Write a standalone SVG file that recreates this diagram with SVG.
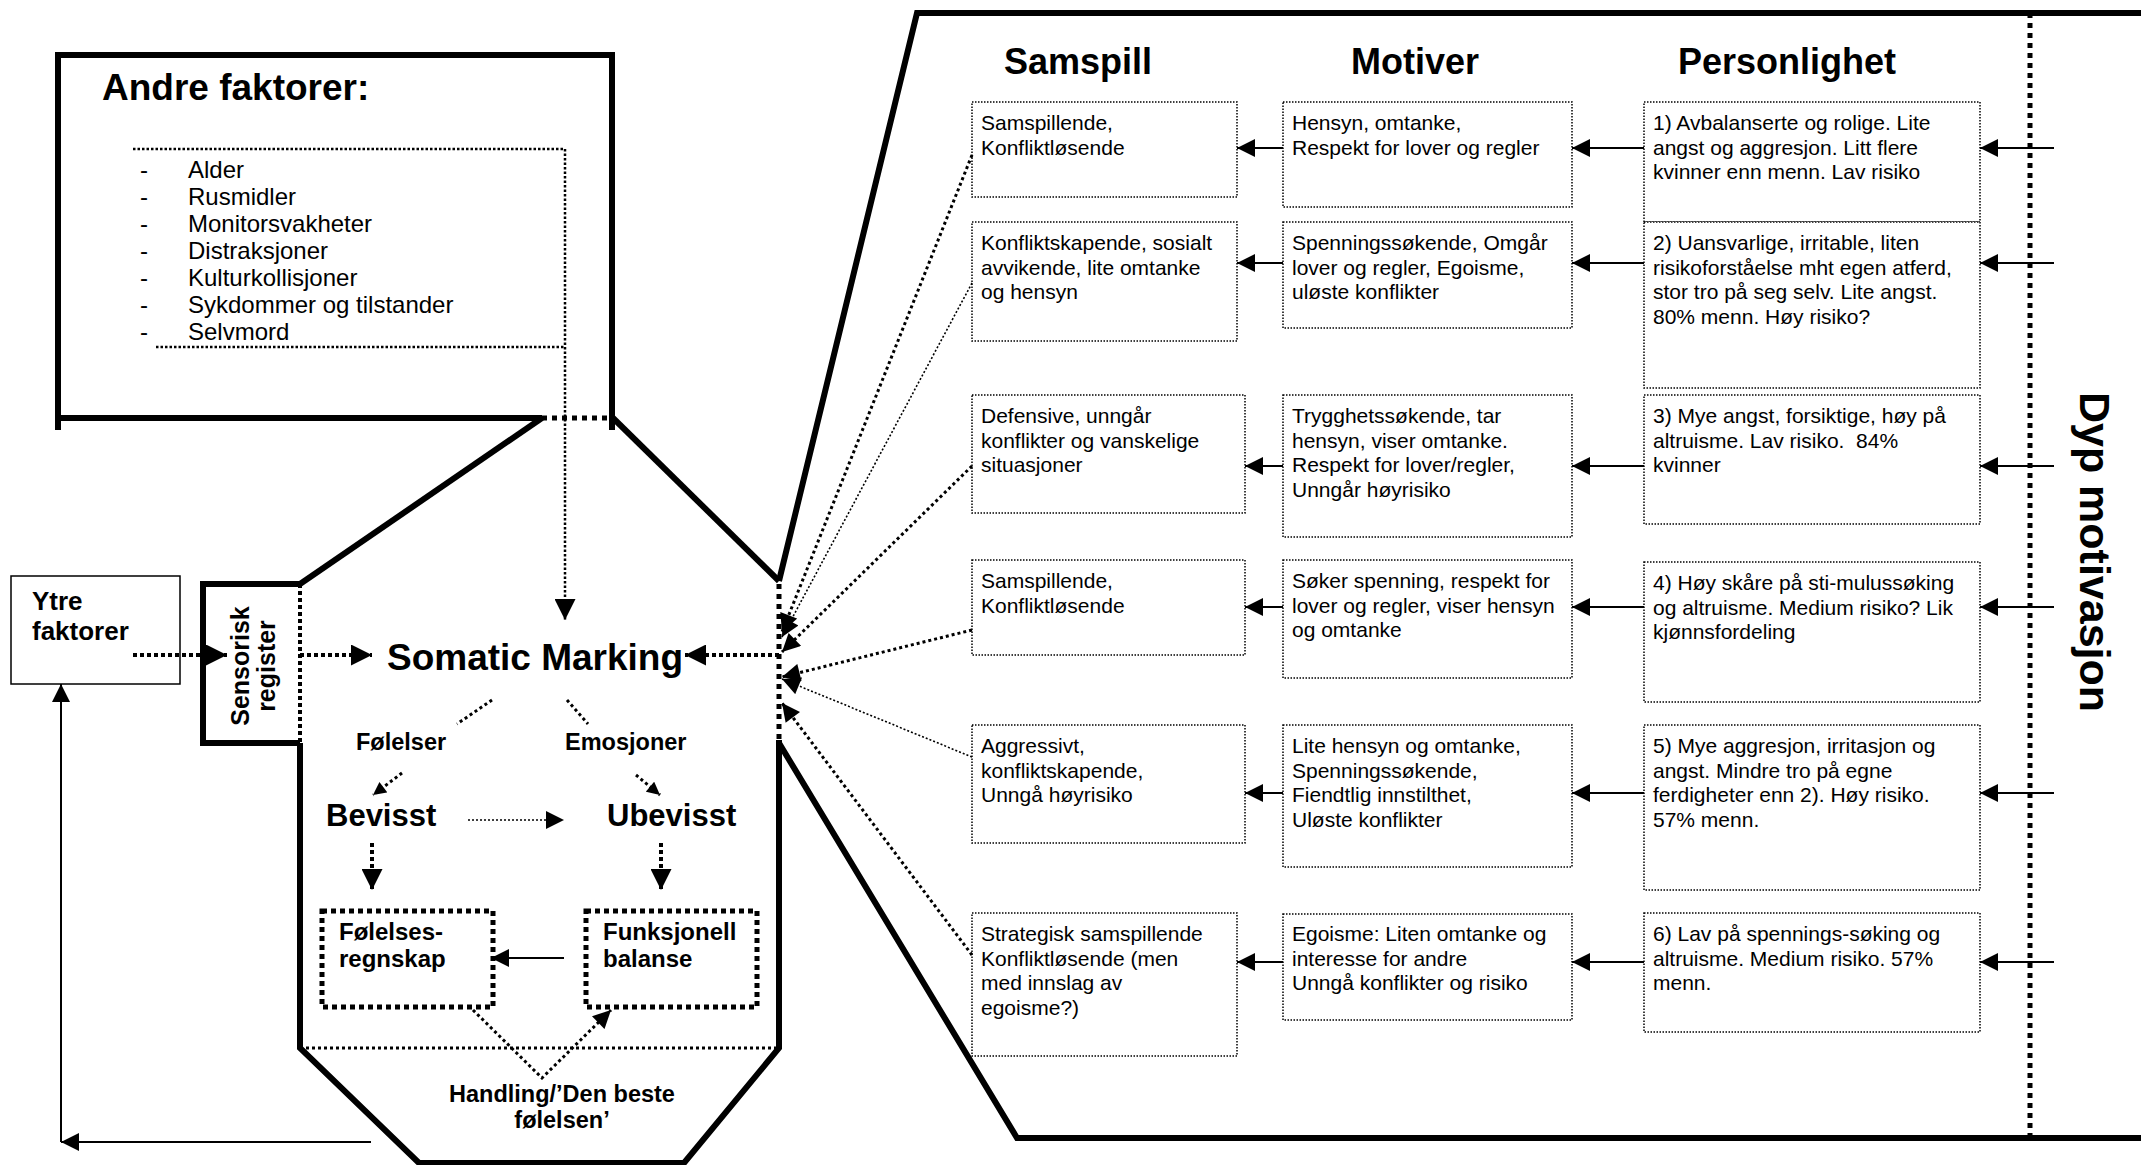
<svg xmlns="http://www.w3.org/2000/svg" width="2141" height="1165" viewBox="0 0 2141 1165">
  <style>
    .bg { fill: #ffffff; }
    .thick { fill: none; stroke: #000; stroke-width: 6; stroke-linejoin: miter; }
    .dotT { fill: none; stroke: #000; stroke-width: 5; stroke-dasharray: 5 5; }
    .dotA { fill: none; stroke: #000; stroke-width: 4; stroke-dasharray: 4 3; }
    .dotM { fill: none; stroke: #000; stroke-width: 3; stroke-dasharray: 3 3; }
    .dotS { fill: none; stroke: #000; stroke-width: 1.6; stroke-dasharray: 2 2; }
    .dotF { fill: none; stroke: #000; stroke-width: 2.5; stroke-dasharray: 2.5 2; }
    .solid { fill: none; stroke: #000; stroke-width: 2; }
    .cell { fill: #fff; stroke: #000; stroke-width: 1.5; stroke-dasharray: 1.5 1.5; }
    .fbox { fill: #fff; stroke: #000; stroke-width: 5; stroke-dasharray: 5 4; }
    text { font-family: "Liberation Sans", Arial, sans-serif; fill: #000; }
    .b { font-weight: bold; }
    .h1 { font-size: 36px; font-weight: bold; }
    .item { font-size: 24px; }
    .cellt { font-size: 21px; }
  </style>
  <defs>
    <marker id="ah-big" viewBox="0 0 10 10" refX="10" refY="5" markerWidth="22" markerHeight="21" markerUnits="userSpaceOnUse" orient="auto">
      <path d="M0,0 L10,5 L0,10 z" fill="#000" stroke="none"/>
    </marker>
    <marker id="ah-mid" viewBox="0 0 10 10" refX="10" refY="5" markerWidth="20" markerHeight="18" markerUnits="userSpaceOnUse" orient="auto">
      <path d="M0,0 L10,5 L0,10 z" fill="#000" stroke="none"/>
    </marker>
    <marker id="ah-small" viewBox="0 0 10 10" refX="10" refY="5" markerWidth="14" markerHeight="13" markerUnits="userSpaceOnUse" orient="auto">
      <path d="M0,0 L10,5 L0,10 z" fill="#000" stroke="none"/>
    </marker>
  </defs>

  <rect class="bg" x="0" y="0" width="2141" height="1165"/>

  <!-- Outer frames: "Andre faktorer" box, octagon and the right-hand panel -->
  <g id="frames">
    <path class="thick" d="M58,430 V55 H612 V430"/>
    <path class="thick" d="M58,418 H542"/>
    <path class="dotT" d="M542,418 H612"/>
    <path class="thick" d="M300,584 L542,418"/>
    <path class="thick" d="M613,418 L779,581"/>
    <path class="dotT" d="M779,584 V740"/>
    <path class="thick" d="M779,740 V1048 L684,1163 H419 L300,1048 V743"/>
    <path class="dotM" d="M300,1048 H779"/>
    <path class="thick" d="M779,581 L917,13 H2141"/>
    <path class="thick" d="M779,743 L1017,1138 H2141"/>
    <path class="dotT" d="M2030,13 V1138"/>
  </g>

  <g id="andre-faktorer">
    <text class="b" x="102" y="100" font-size="37">Andre faktorer:</text>
    <path class="dotF" d="M133,149 H565 M156,347 H565"/>
    <g class="item">
      <text x="140" y="178">-</text><text x="188" y="178">Alder</text>
      <text x="140" y="205">-</text><text x="188" y="205">Rusmidler</text>
      <text x="140" y="232">-</text><text x="188" y="232">Monitorsvakheter</text>
      <text x="140" y="259">-</text><text x="188" y="259">Distraksjoner</text>
      <text x="140" y="286">-</text><text x="188" y="286">Kulturkollisjoner</text>
      <text x="140" y="313">-</text><text x="188" y="313">Sykdommer og tilstander</text>
      <text x="140" y="340">-</text><text x="188" y="340">Selvmord</text>
    </g>
  </g>

  <g id="ytre-faktorer">
    <rect x="11" y="576" width="169" height="108" fill="#fff" stroke="#000" stroke-width="1.5"/>
    <text class="b" x="32" y="610" font-size="26">Ytre</text>
    <text class="b" x="32" y="640" font-size="26">faktorer</text>
  </g>

  <g id="sensorisk-register">
    <path class="thick" d="M300,584 H203 V743 H300"/>
    <path class="dotA" d="M300,584 V743"/>
    <text class="b" font-size="25" text-anchor="middle" transform="translate(249,666) rotate(-90)">Sensorisk</text>
    <text class="b" font-size="25" text-anchor="middle" transform="translate(275,666) rotate(-90)">register</text>
  </g>

  <g id="somatic-marking">
    <text class="b" x="387" y="670" font-size="37">Somatic Marking</text>
  </g>
  <g id="folelser"><text class="b" x="356" y="750" font-size="23.5">Følelser</text></g>
  <g id="emosjoner"><text class="b" x="565" y="750" font-size="23.5">Emosjoner</text></g>
  <g id="bevisst"><text class="b" x="326" y="826" font-size="31">Bevisst</text></g>
  <g id="ubevisst"><text class="b" x="607" y="826" font-size="31">Ubevisst</text></g>
  <g id="folelses-regnskap">
    <rect class="fbox" x="322" y="911" width="171" height="96"/>
    <text class="b" x="339" y="940" font-size="24">Følelses-</text>
    <text class="b" x="339" y="967" font-size="24">regnskap</text>
  </g>
  <g id="funksjonell-balanse">
    <rect class="fbox" x="586" y="911" width="171" height="96"/>
    <text class="b" x="603" y="940" font-size="24">Funksjonell</text>
    <text class="b" x="603" y="967" font-size="24">balanse</text>
  </g>
  <g id="handling">
    <text class="b" x="562" y="1102" font-size="23.5" text-anchor="middle">Handling/’Den beste</text>
    <text class="b" x="562" y="1128" font-size="23.5" text-anchor="middle">følelsen’</text>
  </g>

  <g id="headers">
    <text class="h1" x="1078" y="74" text-anchor="middle">Samspill</text>
    <text class="h1" x="1415" y="74" text-anchor="middle">Motiver</text>
    <text class="h1" x="1787" y="74" text-anchor="middle">Personlighet</text>
  </g>

  <g id="dyp-motivasjon">
    <text class="b" font-size="43" text-anchor="middle" transform="translate(2080,552) rotate(90)">Dyp motivasjon</text>
  </g>

  <!-- Samspill column -->
  <g id="samspill-1">
    <rect class="cell" x="972" y="102" width="265" height="95"/>
    <text class="cellt" x="981" y="130">Samspillende,</text>
    <text class="cellt" x="981" y="154.5">Konfliktløsende</text>
  </g>
  <g id="samspill-2">
    <rect class="cell" x="972" y="222" width="265" height="119"/>
    <text class="cellt" x="981" y="250">Konfliktskapende, sosialt</text>
    <text class="cellt" x="981" y="274.5">avvikende, lite omtanke</text>
    <text class="cellt" x="981" y="299">og hensyn</text>
  </g>
  <g id="samspill-3">
    <rect class="cell" x="972" y="395" width="273" height="118"/>
    <text class="cellt" x="981" y="423">Defensive, unngår</text>
    <text class="cellt" x="981" y="447.5">konflikter og vanskelige</text>
    <text class="cellt" x="981" y="472">situasjoner</text>
  </g>
  <g id="samspill-4">
    <rect class="cell" x="972" y="560" width="273" height="95"/>
    <text class="cellt" x="981" y="588">Samspillende,</text>
    <text class="cellt" x="981" y="612.5">Konfliktløsende</text>
  </g>
  <g id="samspill-5">
    <rect class="cell" x="972" y="725" width="273" height="118"/>
    <text class="cellt" x="981" y="753">Aggressivt,</text>
    <text class="cellt" x="981" y="777.5">konfliktskapende,</text>
    <text class="cellt" x="981" y="802">Unngå høyrisiko</text>
  </g>
  <g id="samspill-6">
    <rect class="cell" x="972" y="913" width="265" height="143"/>
    <text class="cellt" x="981" y="941">Strategisk samspillende</text>
    <text class="cellt" x="981" y="965.5">Konfliktløsende (men</text>
    <text class="cellt" x="981" y="990">med innslag av</text>
    <text class="cellt" x="981" y="1014.5">egoisme?)</text>
  </g>

  <!-- Motiver column -->
  <g id="motiver-1">
    <rect class="cell" x="1283" y="102" width="289" height="105"/>
    <text class="cellt" x="1292" y="130">Hensyn, omtanke,</text>
    <text class="cellt" x="1292" y="154.5">Respekt for lover og regler</text>
  </g>
  <g id="motiver-2">
    <rect class="cell" x="1283" y="222" width="289" height="106"/>
    <text class="cellt" x="1292" y="250">Spenningssøkende, Omgår</text>
    <text class="cellt" x="1292" y="274.5">lover og regler, Egoisme,</text>
    <text class="cellt" x="1292" y="299">uløste konflikter</text>
  </g>
  <g id="motiver-3">
    <rect class="cell" x="1283" y="395" width="289" height="142"/>
    <text class="cellt" x="1292" y="423">Trygghetssøkende, tar</text>
    <text class="cellt" x="1292" y="447.5">hensyn, viser omtanke.</text>
    <text class="cellt" x="1292" y="472">Respekt for lover/regler,</text>
    <text class="cellt" x="1292" y="496.5">Unngår høyrisiko</text>
  </g>
  <g id="motiver-4">
    <rect class="cell" x="1283" y="560" width="289" height="118"/>
    <text class="cellt" x="1292" y="588">Søker spenning, respekt for</text>
    <text class="cellt" x="1292" y="612.5">lover og regler, viser hensyn</text>
    <text class="cellt" x="1292" y="637">og omtanke</text>
  </g>
  <g id="motiver-5">
    <rect class="cell" x="1283" y="725" width="289" height="142"/>
    <text class="cellt" x="1292" y="753">Lite hensyn og omtanke,</text>
    <text class="cellt" x="1292" y="777.5">Spenningssøkende,</text>
    <text class="cellt" x="1292" y="802">Fiendtlig innstilthet,</text>
    <text class="cellt" x="1292" y="826.5">Uløste konflikter</text>
  </g>
  <g id="motiver-6">
    <rect class="cell" x="1283" y="914" width="289" height="106"/>
    <text class="cellt" x="1292" y="941">Egoisme: Liten omtanke og</text>
    <text class="cellt" x="1292" y="965.5">interesse for andre</text>
    <text class="cellt" x="1292" y="990">Unngå konflikter og risiko</text>
  </g>

  <!-- Personlighet column -->
  <g id="personlighet-1">
    <rect class="cell" x="1644" y="102" width="336" height="120"/>
    <text class="cellt" x="1653" y="130">1) Avbalanserte og rolige. Lite</text>
    <text class="cellt" x="1653" y="154.5">angst og aggresjon. Litt flere</text>
    <text class="cellt" x="1653" y="179">kvinner enn menn. Lav risiko</text>
  </g>
  <g id="personlighet-2">
    <rect class="cell" x="1644" y="222" width="336" height="166"/>
    <text class="cellt" x="1653" y="250">2) Uansvarlige, irritable, liten</text>
    <text class="cellt" x="1653" y="274.5">risikoforståelse mht egen atferd,</text>
    <text class="cellt" x="1653" y="299">stor tro på seg selv. Lite angst.</text>
    <text class="cellt" x="1653" y="323.5">80% menn. Høy risiko?</text>
  </g>
  <g id="personlighet-3">
    <rect class="cell" x="1644" y="395" width="336" height="129"/>
    <text class="cellt" x="1653" y="423">3) Mye angst, forsiktige, høy på</text>
    <text class="cellt" x="1653" y="447.5" xml:space="preserve">altruisme. Lav risiko.  84%</text>
    <text class="cellt" x="1653" y="472">kvinner</text>
  </g>
  <g id="personlighet-4">
    <rect class="cell" x="1644" y="562" width="336" height="140"/>
    <text class="cellt" x="1653" y="590">4) Høy skåre på sti-mulussøking</text>
    <text class="cellt" x="1653" y="614.5">og altruisme. Medium risiko? Lik</text>
    <text class="cellt" x="1653" y="639">kjønnsfordeling</text>
  </g>
  <g id="personlighet-5">
    <rect class="cell" x="1644" y="725" width="336" height="165"/>
    <text class="cellt" x="1653" y="753">5) Mye aggresjon, irritasjon og</text>
    <text class="cellt" x="1653" y="777.5">angst. Mindre tro på egne</text>
    <text class="cellt" x="1653" y="802">ferdigheter enn 2). Høy risiko.</text>
    <text class="cellt" x="1653" y="826.5">57% menn.</text>
  </g>
  <g id="personlighet-6">
    <rect class="cell" x="1644" y="913" width="336" height="119"/>
    <text class="cellt" x="1653" y="941">6) Lav på spennings-søking og</text>
    <text class="cellt" x="1653" y="965.5">altruisme. Medium risiko. 57%</text>
    <text class="cellt" x="1653" y="990">menn.</text>
  </g>

  <!-- Connectors -->
  <g id="connectors">
    <!-- into Somatic Marking -->
    <path class="dotF" d="M565,149 V620" marker-end="url(#ah-big)"/>
    <path class="dotA" d="M133,655 H227" marker-end="url(#ah-big)"/>
    <path class="dotA" d="M300,655 H372" marker-end="url(#ah-big)"/>
    <path class="dotA" d="M779,655 H685" marker-end="url(#ah-big)"/>
    <!-- inside the octagon -->
    <path class="dotM" d="M492,700 L457,724"/>
    <path class="dotM" d="M567,700 L588,724"/>
    <path class="dotM" d="M402,773 L373,795" marker-end="url(#ah-small)"/>
    <path class="dotM" d="M636,775 L660,795" marker-end="url(#ah-small)"/>
    <path class="dotS" d="M468,820 H564" marker-end="url(#ah-mid)"/>
    <path class="dotA" d="M372,843 V890" marker-end="url(#ah-big)"/>
    <path class="dotA" d="M661,843 V890" marker-end="url(#ah-big)"/>
    <path class="solid" d="M564,958 H491" marker-end="url(#ah-mid)"/>
    <path class="dotM" d="M473,1010 L542,1078 L611,1010" marker-end="url(#ah-mid)"/>
    <!-- feedback to Ytre faktorer -->
    <path class="solid" d="M371,1142 H61" marker-end="url(#ah-mid)"/>
    <path class="solid" d="M61,1142 V684" marker-end="url(#ah-mid)"/>
    <!-- Samspill boxes to the octagon -->
    <path class="dotM" d="M972,155 L782,632" marker-end="url(#ah-mid)"/>
    <path class="dotS" d="M972,283 L782,637" marker-end="url(#ah-mid)"/>
    <path class="dotM" d="M972,466 L782,652" marker-end="url(#ah-mid)"/>
    <path class="dotM" d="M972,630 L782,677" marker-end="url(#ah-mid)"/>
    <path class="dotS" d="M972,757 L782,679" marker-end="url(#ah-mid)"/>
    <path class="dotM" d="M972,955 L782,703" marker-end="url(#ah-mid)"/>
    <!-- row arrows: Motiver to Samspill -->
    <path class="solid" d="M1283,148 H1237" marker-end="url(#ah-mid)"/>
    <path class="solid" d="M1283,263 H1237" marker-end="url(#ah-mid)"/>
    <path class="solid" d="M1283,466 H1245" marker-end="url(#ah-mid)"/>
    <path class="solid" d="M1283,607 H1245" marker-end="url(#ah-mid)"/>
    <path class="solid" d="M1283,793 H1245" marker-end="url(#ah-mid)"/>
    <path class="solid" d="M1283,962 H1237" marker-end="url(#ah-mid)"/>
    <!-- row arrows: Personlighet to Motiver -->
    <path class="solid" d="M1644,148 H1572" marker-end="url(#ah-mid)"/>
    <path class="solid" d="M1644,263 H1572" marker-end="url(#ah-mid)"/>
    <path class="solid" d="M1644,466 H1572" marker-end="url(#ah-mid)"/>
    <path class="solid" d="M1644,607 H1572" marker-end="url(#ah-mid)"/>
    <path class="solid" d="M1644,793 H1572" marker-end="url(#ah-mid)"/>
    <path class="solid" d="M1644,962 H1572" marker-end="url(#ah-mid)"/>
    <!-- row arrows: deep motivation to Personlighet -->
    <path class="solid" d="M2054,148 H1980" marker-end="url(#ah-mid)"/>
    <path class="solid" d="M2054,263 H1980" marker-end="url(#ah-mid)"/>
    <path class="solid" d="M2054,466 H1980" marker-end="url(#ah-mid)"/>
    <path class="solid" d="M2054,607 H1980" marker-end="url(#ah-mid)"/>
    <path class="solid" d="M2054,793 H1980" marker-end="url(#ah-mid)"/>
    <path class="solid" d="M2054,962 H1980" marker-end="url(#ah-mid)"/>
  </g>
</svg>
